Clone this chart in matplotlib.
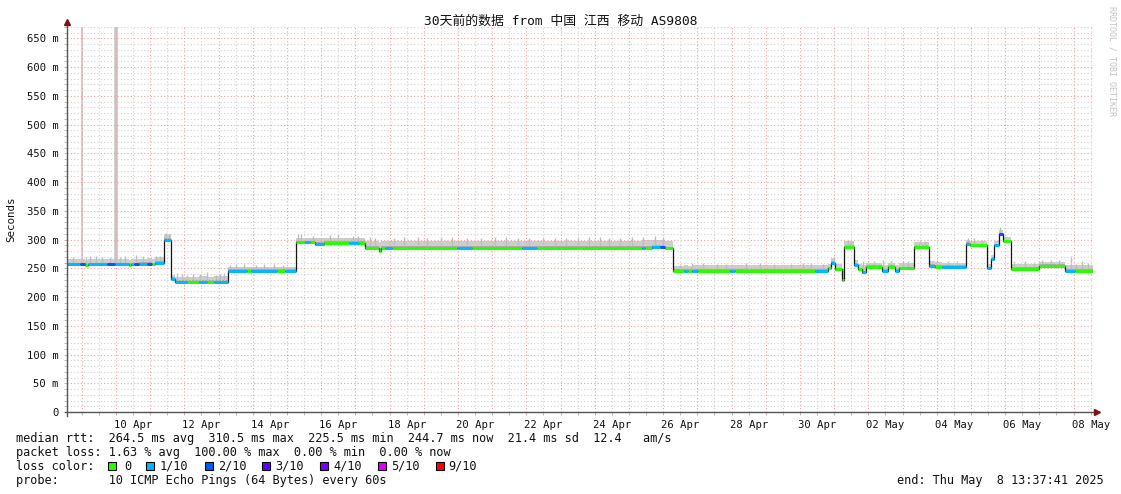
import matplotlib
matplotlib.use('Agg')
import matplotlib.pyplot as plt
import matplotlib.dates as mdates
from matplotlib.ticker import MultipleLocator, FuncFormatter, NullFormatter
from matplotlib.patches import Rectangle
import numpy as np
import pandas as pd

start = '2025-04-08 13:37:41'
end = '2025-05-08 13:37:41'

# median rtt steps (ms), loss class index and top of the smoke band
seg_start = ['2025-04-08 13:37', '2025-04-08 22:40', '2025-04-09 02:15', '2025-04-09 04:20',
             '2025-04-09 17:40', '2025-04-09 23:20', '2025-04-10 09:05', '2025-04-10 10:30',
             '2025-04-10 12:35', '2025-04-10 16:10', '2025-04-10 21:45', '2025-04-11 01:15',
             '2025-04-11 03:25', '2025-04-11 09:30', '2025-04-11 14:35', '2025-04-11 17:25',
             '2025-04-12 01:50', '2025-04-12 10:15', '2025-04-12 15:50', '2025-04-12 20:50',
             '2025-04-13 06:35', '2025-04-13 19:55', '2025-04-13 22:45', '2025-04-14 17:00',
             '2025-04-14 22:35', '2025-04-15 06:30', '2025-04-15 12:35', '2025-04-15 16:05',
             '2025-04-15 19:40', '2025-04-16 02:00', '2025-04-16 19:30', '2025-04-17 02:30',
             '2025-04-17 06:30', '2025-04-17 16:35', '2025-04-17 18:00', '2025-04-17 20:50',
             '2025-04-18 01:40', '2025-04-19 23:20', '2025-04-20 09:50', '2025-04-21 20:55',
             '2025-04-22 07:30', '2025-04-25 09:10', '2025-04-25 11:15', '2025-04-25 16:10',
             '2025-04-25 21:50', '2025-04-26 01:20', '2025-04-26 06:40', '2025-04-26 14:35',
             '2025-04-26 17:25', '2025-04-26 20:10', '2025-04-27 00:25', '2025-04-27 22:55',
             '2025-04-28 02:25', '2025-04-30 10:35', '2025-04-30 19:40', '2025-04-30 21:50',
             '2025-05-01 00:35', '2025-05-01 05:30', '2025-05-01 07:05', '2025-05-01 13:55',
             '2025-05-01 16:40', '2025-05-01 19:30', '2025-05-01 22:20', '2025-05-02 09:30',
             '2025-05-02 13:40', '2025-05-02 18:40', '2025-05-02 21:30', '2025-05-03 07:50',
             '2025-05-03 18:35', '2025-05-03 22:50', '2025-05-04 03:40', '2025-05-04 20:30',
             '2025-05-04 23:20', '2025-05-05 11:15', '2025-05-05 14:05', '2025-05-05 16:10',
             '2025-05-05 19:40', '2025-05-05 22:30', '2025-05-06 04:05', '2025-05-06 23:50',
             '2025-05-07 18:00', '2025-05-08 01:00']
median_ms = [257, 257, 256, 257, 257, 257, 256, 257, 257, 258, 258, 257, 259, 300, 232, 227,
             226, 227, 226, 227, 245, 245, 245, 245, 246, 295, 295, 295, 293, 294, 294, 294,
             286, 281, 286, 286, 286, 286, 286, 286, 286, 286, 286, 287, 287, 285, 246, 246,
             246, 246, 246, 246, 246, 246, 250, 260, 248, 230, 288, 256, 248, 243, 252, 246,
             252, 245, 250, 288, 254, 253, 252, 292, 290, 250, 266, 290, 309, 297, 249, 254,
             245, 245]
loss_step = [1, 2, 0, 1, 2, 1, 0, 1, 2, 1, 2, 0, 1, 1, 1, 1,
             0, 1, 0, 1, 1, 0, 1, 0, 1, 0, 1, 0, 1, 0, 1, 0,
             0, 0, 0, 1, 0, 1, 0, 1, 0, 1, 0, 1, 2, 0, 0, 1,
             0, 1, 0, 1, 0, 1, 0, 1, 0, 0, 0, 1, 0, 1, 0, 1,
             0, 1, 0, 0, 1, 0, 1, 1, 0, 1, 1, 1, 2, 0, 0, 0,
             1, 0]
smoke_top = [266, 267, 265, 266, 267, 266, 265, 267, 267, 267, 268, 266, 269, 309, 239, 235,
             235, 236, 235, 236, 252, 252, 253, 253, 253, 303, 303, 302, 302, 302, 302, 302,
             298, 296, 298, 298, 298, 298, 298, 298, 298, 299, 299, 300, 300, 298, 254, 255,
             254, 255, 255, 255, 255, 255, 257, 268, 257, 248, 298, 264, 258, 256, 260, 256,
             260, 256, 260, 296, 262, 261, 260, 300, 298, 258, 274, 298, 316, 304, 258, 261,
             255, 255]

# single ping excursions above the smoke band
spike_time = ['2025-04-09 06:00', '2025-04-09 14:00', '2025-04-10 06:00', '2025-04-10 19:00',
              '2025-04-11 11:00', '2025-04-11 22:00', '2025-04-12 06:00', '2025-04-12 16:00',
              '2025-04-13 01:00', '2025-04-13 12:00', '2025-04-14 02:00', '2025-04-14 15:00',
              '2025-04-15 10:00', '2025-04-16 06:00', '2025-04-16 22:00', '2025-04-17 10:00',
              '2025-04-18 03:00', '2025-04-18 20:00', '2025-04-19 12:00', '2025-04-20 06:00',
              '2025-04-21 02:00', '2025-04-21 18:00', '2025-04-22 12:00', '2025-04-23 04:00',
              '2025-04-23 20:00', '2025-04-24 10:00', '2025-04-25 02:00', '2025-04-25 18:00',
              '2025-04-26 20:00', '2025-04-27 14:00', '2025-04-28 10:00', '2025-04-29 06:00',
              '2025-04-30 02:00', '2025-04-30 16:00', '2025-05-01 00:00', '2025-05-01 10:00',
              '2025-05-02 04:00', '2025-05-02 16:00', '2025-05-03 12:00', '2025-05-04 08:00',
              '2025-05-05 02:00', '2025-05-05 20:30', '2025-05-06 14:00', '2025-05-07 08:00',
              '2025-05-07 22:30', '2025-05-08 06:00',
              '2025-04-08 18:00', '2025-04-09 03:00', '2025-04-09 10:00', '2025-04-09 20:00',
              '2025-04-10 03:00', '2025-04-10 14:00', '2025-04-11 04:00', '2025-04-11 07:00',
              '2025-04-11 13:00', '2025-04-11 19:00', '2025-04-12 02:00', '2025-04-12 11:00',
              '2025-04-12 22:00', '2025-04-13 04:00', '2025-04-13 08:00', '2025-04-13 18:00',
              '2025-04-14 08:00', '2025-04-14 21:00', '2025-04-15 08:00', '2025-04-15 18:00',
              '2025-04-16 12:00', '2025-04-17 02:00', '2025-04-17 14:00', '2025-04-18 10:00',
              '2025-04-19 02:00', '2025-04-19 20:00', '2025-04-20 16:00', '2025-04-21 10:00',
              '2025-04-22 02:00', '2025-04-22 20:00', '2025-04-23 12:00', '2025-04-24 04:00',
              '2025-04-24 18:00', '2025-04-25 10:00', '2025-04-26 00:00', '2025-04-26 12:00',
              '2025-04-27 04:00', '2025-04-27 20:00', '2025-04-28 20:00', '2025-04-29 18:00',
              '2025-04-30 08:00', '2025-05-01 12:00', '2025-05-01 20:00', '2025-05-02 10:00',
              '2025-05-03 00:00', '2025-05-03 04:00', '2025-05-03 16:00', '2025-05-04 00:00',
              '2025-05-04 14:00', '2025-05-04 22:00', '2025-05-05 08:00', '2025-05-06 06:00',
              '2025-05-06 20:00', '2025-05-07 02:00', '2025-05-07 14:00', '2025-05-08 02:00',
              '2025-05-08 10:00']
spike_top = [272, 270, 271, 272, 312, 241, 240, 243, 241, 257, 256, 258, 309, 308, 307, 304,
             303, 305, 304, 303, 305, 303, 304, 302, 305, 303, 304, 306, 259, 258, 259, 258,
             259, 258, 272, 300, 262, 263, 299, 263, 303, 322, 262, 264, 272, 263,
             270, 269, 271, 270, 269, 273, 271, 272, 309, 242, 239, 240, 239, 242, 255, 257,
             258, 256, 310, 307, 309, 306, 302, 304, 302, 305, 302, 304, 303, 302, 304, 305,
             303, 304, 304, 258, 259, 257, 259, 258, 259, 298, 262, 264, 263, 262, 298, 264,
             262, 302, 300, 262, 261, 264, 264, 258, 260]

# the two full-height smoke columns (packet loss peaks)
tall_time = ['2025-04-09 00:00', '2025-04-10 00:10']
tall_width = [1.2, 2.6]

loss_labels = ['0', '1/10', '2/10', '3/10', '4/10', '5/10', '9/10']
loss_colors = ['#26ff00', '#00b8ff', '#0059ff', '#5e00ff', '#7e00ff', '#dd00ff', '#ff0000']

title = '30天前的数据 from 中国 江西 移动 AS9808'
stats_lines = ['median rtt:  264.5 ms avg  310.5 ms max  225.5 ms min  244.7 ms now  21.4 ms sd  12.4   am/s',
               'packet loss: 1.63 % avg  100.00 % max  0.00 % min  0.00 % now']
probe_line = 'probe:       10 ICMP Echo Pings (64 Bytes) every 60s'
end_line = 'end: Thu May  8 13:37:41 2025'

mono = ['DejaVu Sans Mono', 'Noto Sans CJK SC']
W, H = 1121, 494

fig = plt.figure(figsize=(W / 100, H / 100), dpi=100)
fig.patch.set_facecolor('white')
ax = fig.add_axes([67 / W, 82 / H, (1093 - 67) / W, (412 - 27) / H])
ax.set_facecolor('white')

edges = pd.to_datetime(seg_start + [end], format='mixed')
med = np.array(median_ms, dtype=float)
top = np.array(smoke_top, dtype=float)

# smoke
ax.fill_between(edges, np.append(med - 2, med[-1] - 2), np.append(top, top[-1]),
                step='post', color='#cdcdcd', lw=0, zorder=1)
ax.fill_between(edges, np.append(med - 2, med[-1] - 2), np.append(med + 3, med[-1] + 3),
                step='post', color='#ababab', lw=0, zorder=1.1)

st = pd.to_datetime(spike_time)
idx = np.searchsorted(edges, st, side='right') - 1
ax.vlines(st, med[idx], spike_top, color='#bdbdbd', lw=1.0, zorder=1)

tt = pd.to_datetime(tall_time)
tidx = np.searchsorted(edges, tt, side='right') - 1
for t, base, w in zip(tt, med[tidx], tall_width):
    ax.vlines(t, base, 700, color='#c6c6c6', lw=w, zorder=1)

# median: black connector + loss-coloured steps
ax.step(edges, np.append(med, med[-1]), where='post', color='#141414', lw=0.9, zorder=3)
ax.hlines(med, edges[:-1], edges[1:], colors=[loss_colors[i] for i in loss_step],
          lw=2.2, zorder=4)

ax.set_xlim(pd.Timestamp(start), pd.Timestamp(end))
ax.set_ylim(0, 670)

ax.yaxis.set_major_locator(MultipleLocator(50))
ax.yaxis.set_minor_locator(MultipleLocator(10))
ax.yaxis.set_major_formatter(FuncFormatter(lambda v, p: '0' if v == 0 else f'{int(v)} m'))
ax.xaxis.set_major_locator(mdates.DayLocator())
ax.xaxis.set_minor_locator(mdates.HourLocator(byhour=12))
ax.xaxis.set_major_formatter(NullFormatter())


def day_label(v, p):
    d = mdates.num2date(v)
    return d.strftime('%d %b') if d.day % 2 == 0 else ''


ax.xaxis.set_minor_formatter(FuncFormatter(day_label))

ax.set_axisbelow(False)
ax.grid(which='major', color='#f2a0a0', linestyle=(0, (1, 2)), lw=0.8)
ax.grid(which='minor', color='#d2d2d2', linestyle=(0, (1, 2)), lw=0.8)

ax.tick_params(axis='both', which='both', length=2, width=0.6, color='#b0b0b0')
ax.tick_params(axis='y', which='major', labelsize=7.6, pad=4, labelcolor='#111111')
ax.tick_params(axis='x', which='minor', labelsize=7.6, pad=4, labelcolor='#111111')
for lab in ax.get_yticklabels() + ax.get_xticklabels(minor=True):
    lab.set_family(mono)

for s in ['top', 'right', 'left', 'bottom']:
    ax.spines[s].set_visible(False)
ax.plot([0, 0], [-0.01, 1.01], transform=ax.transAxes, color='#555555', lw=1, clip_on=False, zorder=5)
ax.plot([-0.002, 1.003], [0, 0], transform=ax.transAxes, color='#555555', lw=1, clip_on=False, zorder=5)
ax.plot([0], [1.012], marker='^', ms=5, color='#7a1414', transform=ax.transAxes, clip_on=False, zorder=6)
ax.plot([1.004], [0], marker='>', ms=5, color='#7a1414', transform=ax.transAxes, clip_on=False, zorder=6)

fig.text(0.5, 1 - 21.5 / H, title, ha='center', va='center', family=mono, size=9.3, color='#111111')
fig.text(11 / W, 1 - 219 / H, 'Seconds', rotation=90, ha='center', va='center',
         family=mono, size=7.8, color='#111111')
fig.text(1112 / W, 1 - 61 / H, 'RRDTOOL / TOBI OETIKER', rotation=270, ha='center', va='center',
         family=mono, size=6.0, color='#c4c4c4')

# legend block under the graph
fs = 8.6
ys = [438, 452]
for y, s in zip(ys, stats_lines):
    fig.text(16 / W, 1 - y / H, s, ha='left', va='center', family=mono, size=fs, color='#111111')
fig.text(16 / W, 1 - 466 / H, 'loss color:', ha='left', va='center', family=mono, size=fs, color='#111111')
box_x = [108, 146, 205, 262, 320, 378, 436]
lab_x = [124, 160, 218, 275, 333, 391, 448]
for bx, lx, c, l in zip(box_x, lab_x, loss_colors, loss_labels):
    fig.add_artist(Rectangle((bx / W, 1 - 470 / H), 8 / W, 8 / H, transform=fig.transFigure,
                             facecolor=c, edgecolor='black', lw=0.8))
    fig.text(lx / W, 1 - 466 / H, l, ha='left', va='center', family=mono, size=fs, color='#111111')
fig.text(16 / W, 1 - 480 / H, probe_line, ha='left', va='center', family=mono, size=fs, color='#111111')
fig.text(1104 / W, 1 - 480 / H, end_line, ha='right', va='center', family=mono, size=fs, color='#111111')

fig.savefig('out.png', dpi=100)
